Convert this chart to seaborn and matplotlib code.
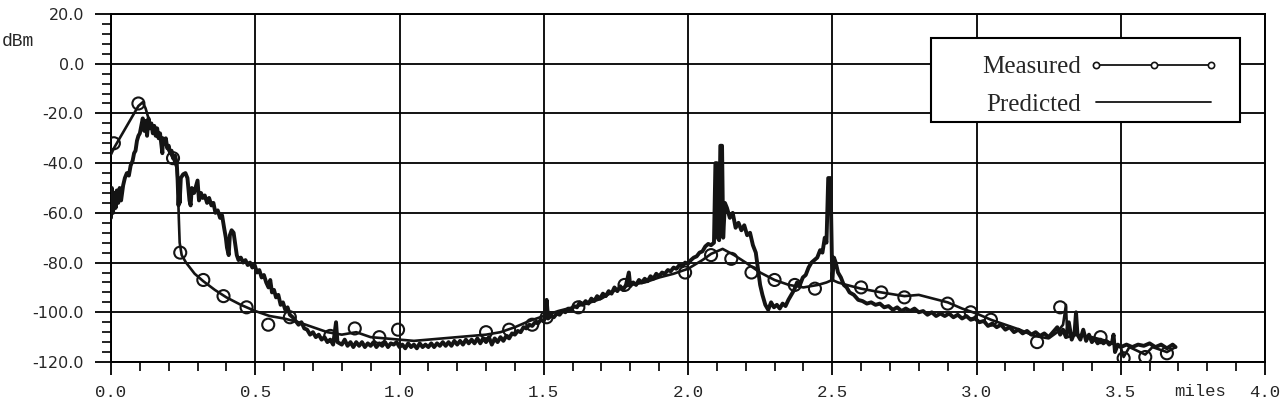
import matplotlib
matplotlib.use("Agg")
import matplotlib.pyplot as plt
from matplotlib.lines import Line2D
from matplotlib.patches import Rectangle
from matplotlib.ticker import MultipleLocator
import pandas as pd
import seaborn as sns

# Measured: smooth trace (line) plus the sampled circles drawn on it
measured_x = [0.000, 0.010, 0.040, 0.070, 0.095, 0.110, 0.120, 0.135, 0.160, 0.190,
              0.215, 0.228, 0.232, 0.235, 0.238, 0.245, 0.260, 0.290, 0.320, 0.360,
              0.400, 0.450, 0.500, 0.550, 0.600, 0.650, 0.700, 0.750, 0.800, 0.850,
              0.900, 0.950, 1.000, 1.050, 1.100, 1.150, 1.200, 1.250, 1.300, 1.350,
              1.400, 1.450, 1.500, 1.550, 1.600, 1.650, 1.700, 1.750, 1.800, 1.850,
              1.900, 1.950, 2.000, 2.050, 2.080, 2.120, 2.160, 2.200, 2.250, 2.300,
              2.350, 2.400, 2.450, 2.480, 2.500, 2.520, 2.550, 2.600, 2.670, 2.750,
              2.800, 2.850, 2.900, 2.950, 3.000, 3.050, 3.100, 3.150, 3.200, 3.250,
              3.280, 3.300, 3.310, 3.315, 3.350, 3.400, 3.450, 3.500, 3.510, 3.530,
              3.585, 3.610, 3.660, 3.690]
measured_y = [-36.5, -34, -28, -22, -17, -15.5, -18, -24, -28, -33,
              -38, -42, -50, -62, -72, -77, -80, -84.5, -87.5, -91,
              -94, -97, -99.5, -101.5, -102.5, -104, -106, -108, -109, -108,
              -110, -110.5, -111, -111.5, -111, -110.5, -110, -109.5, -109, -108,
              -106, -103.5, -101.5, -99.5, -98, -96.5, -94.5, -91, -89, -88,
              -86, -84.5, -82.5, -79, -76.5, -74.5, -77, -80, -84, -87,
              -89, -90, -89, -88, -87, -88, -89, -90.5, -92, -93.5,
              -93, -94.5, -96, -98.5, -100.5, -103, -105, -107, -109.5, -110.5,
              -108, -105, -97, -110, -109, -110, -111.5, -114, -118, -114,
              -117, -114, -116, -114]

circle_x = [0.01, 0.095, 0.215, 0.24, 0.32, 0.39, 0.47, 0.545, 0.62, 0.76,
            0.845, 0.93, 0.995, 1.30, 1.38, 1.46, 1.51, 1.62, 1.78, 1.99,
            2.08, 2.15, 2.22, 2.30, 2.37, 2.44, 2.60, 2.67, 2.75, 2.90,
            2.98, 3.05, 3.21, 3.29, 3.43, 3.51, 3.585, 3.66]
circle_y = [-32, -16, -38, -76, -87, -93.5, -98, -105, -102, -109.5,
            -106.5, -110, -107, -108, -107, -105, -102, -98, -89, -84,
            -77, -78.5, -84, -87, -89, -90.5, -90, -92, -94, -96.5,
            -100, -103, -112, -98, -110, -118.5, -118, -116.5]

# Predicted: noisy ray-trace result
predicted_x = [
    0.000, 0.003, 0.007, 0.012, 0.016, 0.020, 0.025, 0.030, 0.035, 0.042,
    0.048, 0.055, 0.062, 0.068, 0.075, 0.080, 0.085, 0.090, 0.095, 0.100,
    0.105, 0.110, 0.115, 0.120, 0.125, 0.130, 0.135, 0.140, 0.145, 0.150,
    0.155, 0.160, 0.165, 0.170, 0.175, 0.178, 0.180, 0.185, 0.190, 0.195,
    0.200, 0.205, 0.210, 0.215, 0.222, 0.228, 0.231, 0.234, 0.236, 0.238,
    0.242, 0.250, 0.258, 0.265, 0.272, 0.276, 0.280, 0.288, 0.295, 0.300,
    0.305, 0.312, 0.318, 0.325, 0.333, 0.340, 0.348, 0.355, 0.362, 0.370,
    0.378, 0.385, 0.392, 0.398, 0.402, 0.408, 0.412, 0.418, 0.425, 0.430,
    0.436, 0.442, 0.450, 0.458, 0.466, 0.474, 0.482, 0.490, 0.498, 0.506,
    0.514, 0.522, 0.530, 0.538, 0.546, 0.552, 0.558, 0.565, 0.572, 0.580,
    0.588, 0.596, 0.604, 0.612, 0.620, 0.630, 0.640, 0.650, 0.660, 0.670,
    0.680, 0.690, 0.700, 0.710, 0.720, 0.730, 0.740, 0.750, 0.760, 0.770,
    0.780, 0.785, 0.800, 0.810, 0.820, 0.830, 0.840, 0.850, 0.860, 0.870,
    0.880, 0.890, 0.900, 0.910, 0.920, 0.930, 0.940, 0.950, 0.960, 0.970,
    0.980, 0.990, 1.000, 1.010, 1.020, 1.030, 1.040, 1.050, 1.060, 1.070,
    1.080, 1.090, 1.100, 1.110, 1.120, 1.130, 1.140, 1.150, 1.160, 1.170,
    1.180, 1.190, 1.200, 1.210, 1.220, 1.230, 1.240, 1.250, 1.260, 1.270,
    1.280, 1.290, 1.300, 1.310, 1.320, 1.330, 1.340, 1.350, 1.360, 1.370,
    1.380, 1.390, 1.400, 1.410, 1.420, 1.430, 1.440, 1.450, 1.460, 1.470,
    1.480, 1.490, 1.500, 1.505, 1.510, 1.515, 1.525, 1.535, 1.545, 1.555,
    1.565, 1.575, 1.585, 1.595, 1.605, 1.615, 1.625, 1.635, 1.645, 1.655,
    1.665, 1.675, 1.685, 1.695, 1.705, 1.715, 1.725, 1.735, 1.745, 1.755,
    1.765, 1.775, 1.785, 1.795, 1.800, 1.810, 1.820, 1.830, 1.840, 1.850,
    1.860, 1.870, 1.880, 1.890, 1.900, 1.910, 1.920, 1.930, 1.940, 1.950,
    1.960, 1.970, 1.980, 1.990, 2.000, 2.010, 2.020, 2.030, 2.040, 2.050,
    2.060, 2.070, 2.080, 2.090, 2.095, 2.100, 2.103, 2.108, 2.112, 2.118,
    2.122, 2.128, 2.135, 2.145, 2.155, 2.165, 2.175, 2.185, 2.195, 2.205,
    2.215, 2.225, 2.235, 2.242, 2.250, 2.258, 2.268, 2.278, 2.288, 2.298,
    2.308, 2.318, 2.328, 2.338, 2.348, 2.358, 2.368, 2.378, 2.388, 2.398,
    2.408, 2.418, 2.428, 2.438, 2.448, 2.458, 2.466, 2.474, 2.480, 2.486,
    2.494, 2.500, 2.506, 2.512, 2.520, 2.530, 2.540, 2.550, 2.560, 2.575,
    2.590, 2.605, 2.620, 2.635, 2.650, 2.665, 2.680, 2.695, 2.710, 2.725,
    2.740, 2.755, 2.770, 2.785, 2.800, 2.815, 2.830, 2.845, 2.860, 2.875,
    2.890, 2.905, 2.920, 2.935, 2.950, 2.965, 2.980, 2.995, 3.010, 3.025,
    3.040, 3.055, 3.070, 3.085, 3.100, 3.115, 3.130, 3.145, 3.160, 3.175,
    3.190, 3.205, 3.220, 3.235, 3.250, 3.265, 3.280, 3.290, 3.300, 3.310,
    3.320, 3.330, 3.340, 3.345, 3.350, 3.360, 3.370, 3.380, 3.390, 3.400,
    3.410, 3.420, 3.430, 3.440, 3.450, 3.460, 3.470, 3.475, 3.480, 3.490,
    3.500, 3.520, 3.540, 3.560, 3.580, 3.600, 3.620, 3.640, 3.660, 3.680,
    3.690]
predicted_y = [
    -62, -50, -60, -52, -58, -51, -56, -50, -55, -49,
    -46, -44, -45, -41, -39, -36, -35, -31, -29, -28,
    -25, -22, -27, -23, -29, -22, -26, -24, -28, -25,
    -29, -26, -30, -28, -33, -36, -30, -32, -30, -34,
    -33, -36, -35, -38, -37, -40, -47, -57, -52, -56,
    -46, -44.5, -44, -46, -55, -57, -50, -52, -49, -47,
    -55, -52, -54, -53, -56, -54, -57, -56, -60, -59,
    -62, -61, -66, -70, -74, -77, -69, -67, -68, -72,
    -77, -79, -78, -80, -79, -81, -80, -82, -81, -84,
    -83, -86, -85, -88, -90, -87, -92, -91, -94, -93,
    -97, -96, -99, -98, -101, -102, -103.5, -105, -104, -106.5,
    -107, -109, -108, -110, -109, -111, -110, -112, -111, -113,
    -104, -112, -113, -111, -113.5, -112, -114, -112, -113.5, -112,
    -114, -112.5, -113.5, -112, -114, -112.5, -113.5, -112, -114, -112.5,
    -113, -112, -114, -113, -114.5, -112.5, -114, -113, -114.5, -112.5,
    -114, -113, -114, -112.5, -114, -112.5, -113.5, -112, -113.5, -112,
    -113.5, -111.5, -113, -111.5, -113, -111, -112.5, -111, -112.5, -110.5,
    -112.5, -110.5, -112, -110, -113, -110.5, -112, -110, -111.5, -109.5,
    -110.5, -108.5, -109, -107.5, -108, -106, -106.5, -105, -105.5, -104,
    -104.5, -103, -103.5, -102, -95, -102.5, -101.5, -102, -100.5, -101,
    -99.5, -100, -98.5, -99, -97.5, -98, -96, -97, -95.5, -96.5,
    -94.5, -95.5, -93.5, -94.5, -92.5, -93.5, -91.5, -92.5, -90, -91.5,
    -89.5, -91, -89, -84, -89.5, -88, -89, -87, -88, -86.5,
    -87.5, -85.5, -86.5, -84.5, -85.5, -84, -84.5, -83, -83.5, -82,
    -82.5, -81, -81.5, -80, -80.5, -79, -78, -77.5, -76, -75.5,
    -73.5, -72.5, -73, -72, -40, -40, -70, -71, -33, -33,
    -70, -56, -58, -62, -60, -66, -64, -67, -65, -69,
    -68, -73, -76, -82, -89, -93, -97, -99, -96, -98,
    -97, -98.5, -96.5, -97.5, -95, -93, -91, -88, -89, -86,
    -85, -82, -80, -79, -78, -75, -76, -70, -72, -46,
    -46, -87, -78, -80, -84, -86, -89, -90, -92, -93,
    -95, -95.5, -96.5, -96, -97, -96.5, -98, -97.5, -99, -98,
    -99.5, -98.5, -99.5, -98.5, -100, -99.5, -101, -100, -101.5, -100.5,
    -101.5, -100.5, -102, -101, -102.5, -101.5, -103, -102.5, -104, -103.5,
    -105.5, -104.5, -106, -105, -107, -106, -108, -107, -108.5, -107.5,
    -109, -108, -109.5, -108.5, -110, -108, -106, -109, -107, -110,
    -104, -111, -108, -100, -109, -111, -107, -111.5, -109, -112,
    -110.5, -112.5, -111, -112.5, -111.5, -113, -112, -109, -116, -113,
    -114, -113, -114, -113, -113.5, -112.5, -114, -113, -114.5, -113,
    -114]

x_ticks = [0.0, 0.5, 1.0, 1.5, 2.0, 2.5, 3.0, 3.5, 4.0]
x_tick_labels = ["0.0", "0.5", "1.0", "1.5", "2.0", "2.5", "3.0", "3.5", "4.0"]
y_ticks = [20, 0, -20, -40, -60, -80, -100, -120]
y_tick_labels = ["20.0", "0.0", "-20.0", "-40.0", "-60.0", "-80.0", "-100.0", "-120.0"]

measured_df = pd.DataFrame({"miles": measured_x, "dBm": measured_y})
circles_df = pd.DataFrame({"miles": circle_x, "dBm": circle_y})
predicted_df = pd.DataFrame({"miles": predicted_x, "dBm": predicted_y})

sns.set_style("ticks")
plt.rcParams["font.family"] = ["DejaVu Sans"]

fig = plt.figure(figsize=(12.83, 4.09), dpi=100)
ax = fig.add_axes([111 / 1283, 1 - 362 / 409, 1154 / 1283, 348 / 409])

ink = "#141414"
sns.lineplot(data=predicted_df, x="miles", y="dBm", sort=False, estimator=None,
             color=ink, lw=2.8, ax=ax, zorder=3)
sns.lineplot(data=measured_df, x="miles", y="dBm", sort=False, estimator=None,
             color=ink, lw=1.9, ax=ax, zorder=3)
sns.scatterplot(data=circles_df, x="miles", y="dBm", marker="o", s=75,
                facecolors="none", edgecolor=ink, linewidth=1.5, ax=ax, zorder=4)

ax.set_xlim(0, 4.0)
ax.set_ylim(-120, 20)
ax.set_xticks(x_ticks)
ax.set_xticklabels(x_tick_labels, family="Liberation Mono", fontsize=12.5)
ax.set_yticks(y_ticks)
ax.set_yticklabels(y_tick_labels, fontsize=11.5)
ax.xaxis.set_minor_locator(MultipleLocator(0.1))
ax.yaxis.set_minor_locator(MultipleLocator(4))
ax.tick_params(axis="x", which="major", length=9.5, width=1.3, pad=7, color="black")
ax.tick_params(axis="y", which="major", length=11.5, width=1.3, pad=8, color="black")
ax.tick_params(which="minor", length=6.5, width=1.2, color="black")
ax.grid(True, which="major", color="black", lw=1.3)
for s in ax.spines.values():
    s.set_visible(True)
    s.set_color("black")
    s.set_linewidth(1.4)
ax.set_xlabel("")
ax.set_ylabel("")

ax.text(3.775, -0.064, "miles", transform=ax.get_xaxis_transform(),
        ha="center", va="top", family="Liberation Mono", fontsize=12.5)
fig.text(2 / 1283, 1 - 41 / 409, "dBm", ha="left", va="center",
         family="Liberation Mono", fontsize=13)

# legend box (white, hides grid) with text left of the line samples
ax.add_patch(Rectangle((0.711, 0.690), 0.267, 0.241, transform=ax.transAxes,
                       facecolor="white", edgecolor="black", lw=1.5, zorder=5))
handles = [Line2D([], [], color=ink, lw=1.3, marker="o", markersize=4.5,
                  markerfacecolor="white", markeredgecolor=ink, markeredgewidth=1.2),
           Line2D([], [], color=ink, lw=1.3)]
leg = ax.legend(handles, ["Measured", "Predicted"], loc="upper left",
                bbox_to_anchor=(0.74, 0.93), frameon=False, markerfirst=False,
                numpoints=3, handlelength=5.2, handletextpad=0.3, labelspacing=0.6,
                borderpad=0.2, prop={"family": "Liberation Serif", "size": 18})
leg.set_zorder(6)

fig.savefig("out.png", dpi=100)
